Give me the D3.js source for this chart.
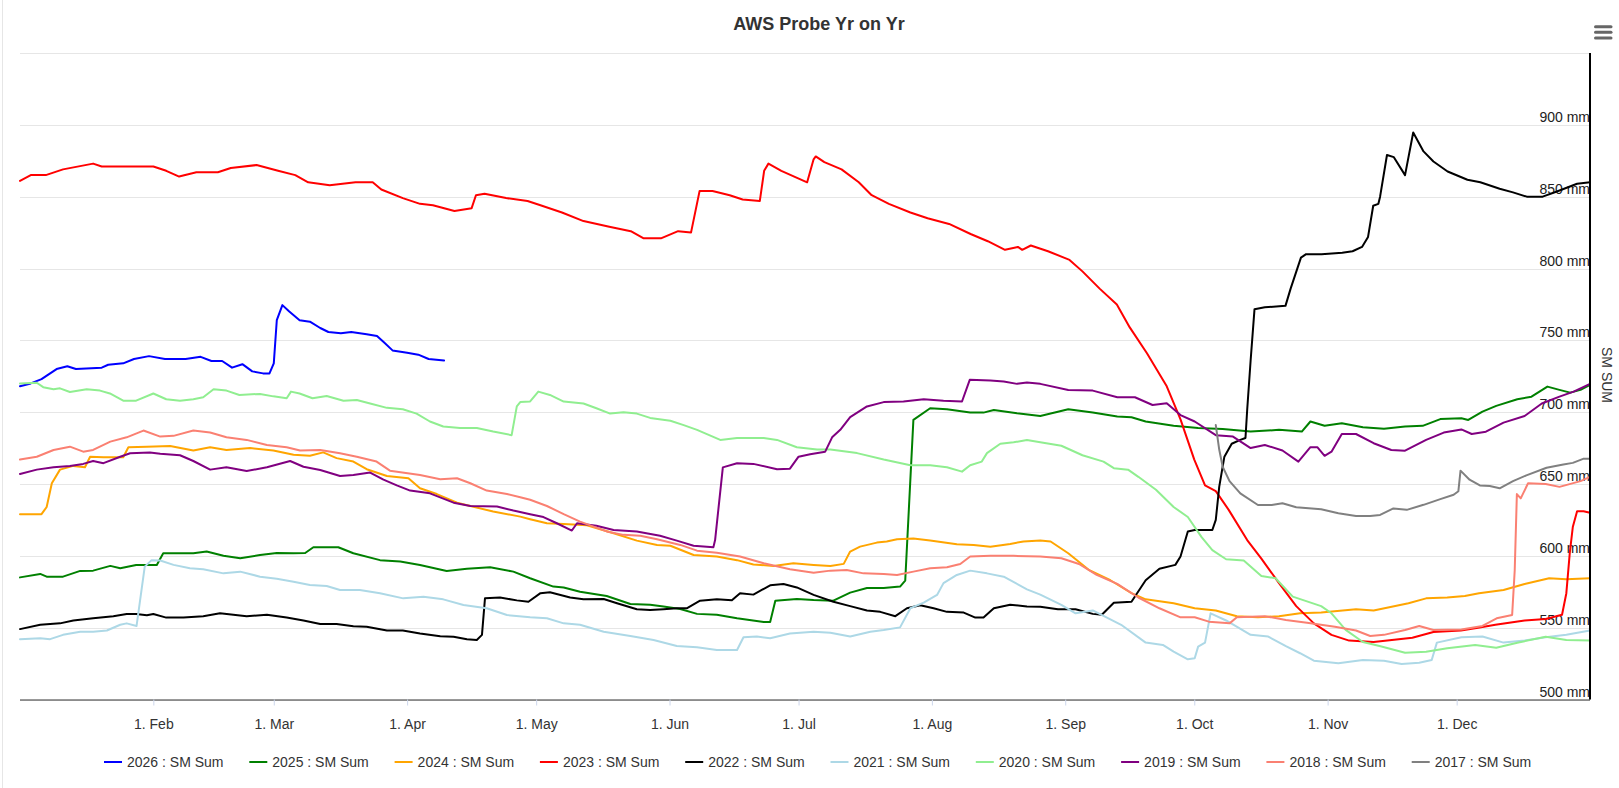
<!DOCTYPE html>
<html><head><meta charset="utf-8">
<script src="https://cdn.jsdelivr.net/npm/d3@7/dist/d3.min.js"></script>
<style>body{margin:0;background:#fff;font-family:"Liberation Sans",Arial,sans-serif}</style>
</head><body><svg id="c" width="1619" height="788"></svg>
<script>
// ---- data: [day of year, mm] ----
const yearStart = Date.UTC(2026,0,1);
const yTicks = [500,550,600,650,700,750,800,850,900,950];
const yLabelTicks = [500,550,600,650,700,750,800,850,900];
const seriesNames = ["2026 : SM Sum","2025 : SM Sum","2024 : SM Sum","2023 : SM Sum","2022 : SM Sum","2021 : SM Sum","2020 : SM Sum","2019 : SM Sum","2018 : SM Sum","2017 : SM Sum"];
const seriesColors = ["#0000FF","#008000","#FFA500","#FF0000","#000000","#ADD8E6","#90EE90","#800080","#FA8072","#808080"];

const s2026 = [[0,718],[2.5,720],[5,723],[8.5,730],[11,732],[13,730],[19,731],[20.5,733],[24,734],[26.5,737],[30,739],[33.7,737],[38.5,737],[42,738.5],[44.5,735.6],[47,735.6],[49.3,731],[51.7,733.4],[54,728.4],[56.5,727],[58,727],[59,734],[59.7,764],[61,774.5],[62.6,770],[65,764],[67.4,763],[69.8,758.6],[71.7,755.8],[74.6,755],[77,755.8],[80.6,754.3],[83,753],[84.6,748.6],[86.6,743],[90,741.4],[92.6,740],[95,737],[98.6,736]];

const s2025 = [[0,585],[4.7,587.4],[6.2,585.5],[10,585.5],[14,589.5],[17,589.7],[21,593],[23.3,591.3],[27,593.6],[31.8,593.6],[33.3,601.8],[36.4,601.8],[40.3,601.8],[43.4,603],[47.3,600],[51.2,598.3],[55.8,600.6],[59.7,602],[63.6,601.8],[66.3,602],[68.2,606],[74,606],[77.5,601.8],[83.7,597],[88.4,596],[93,593.6],[99.2,589.5],[103.9,591],[109.3,592],[114.7,589],[118.6,584.4],[124,578.6],[126.4,578],[130.2,575],[136.4,572],[141.9,566.5],[146.5,566],[149.6,564.7],[153.5,563],[157.4,559.6],[162,559],[166.7,556.5],[172.9,554],[174.4,554],[175.6,568.8],[180.6,570],[184.5,569.3],[189.1,568.8],[193,574.4],[196.9,577.6],[200.8,577.6],[204.6,578.6],[205.8,582.7],[207.7,694.6],[211.6,702.7],[215.5,702],[220.9,699.7],[224,699.7],[226.4,701.5],[231.8,699.2],[237.2,697.4],[243.7,702],[249.4,699.7],[255.1,697],[258.4,696.5],[261.7,693.5],[268.2,690.5],[273.9,688.9],[279.6,688.2],[286.1,686.5],[292.7,687.7],[298,686.5],[300,693.5],[303.3,690.5],[307.3,692.3],[312.2,689.5],[317.1,688.5],[322,690],[326.1,690.5],[330.2,695.2],[335.1,695.8],[336.7,694.6],[340,700.4],[343.2,704.4],[348.1,709],[351.4,710.8],[355.1,717.8],[357.9,715.5],[360.4,713.6],[362.8,715.5],[365,719]];

const s2024 = [[0,629],[5,629],[6.2,634],[7.4,650.5],[9.3,660],[12.4,662.6],[15.1,661.7],[16.3,669],[19.4,668.6],[24,668.6],[25.2,675.6],[29.5,676],[34.9,676.5],[40.3,673.3],[44.2,675.6],[48,673.7],[53.5,675],[58.9,673.3],[63.6,670.3],[67.4,669.6],[70.5,672],[73.6,668],[77.5,665.6],[80.6,660.3],[85.3,655.6],[90.3,654],[93,647],[96.9,643],[101.6,637],[104.7,634.7],[110,630.8],[116.3,627.3],[118.6,625.5],[122.5,622.7],[126.4,622.2],[131.8,621.3],[138,615.7],[143.4,610.6],[148.1,607.6],[151.2,607],[156.6,600.6],[162,599.5],[166.7,597],[170.5,594],[175.2,593],[179.8,594.8],[184.5,593.7],[188.4,593],[191.5,594.4],[193,603],[195.3,606.4],[199.2,609.2],[201.5,610],[203.9,611.5],[207.7,612],[211.6,610.6],[217.8,608],[221.7,607.6],[225.6,606.4],[230.2,608.3],[233.3,610],[237.2,610.6],[239.6,610],[243.7,601.8],[248.6,590],[253.5,583],[258.4,574],[261.7,569.7],[268.2,567],[273.1,563.5],[278,562],[282.9,558],[287.8,557.2],[292.7,558],[297.6,560],[302.5,560.5],[310.6,562.8],[314.7,562],[322.8,567],[326.9,570.4],[331.8,571],[335.9,572],[339.2,574],[344.9,576.2],[349.8,580.4],[355.5,584.4],[359.5,583.7],[365,584.4]];

const s2023 = [[0,861],[2.5,865],[6,865],[10,869],[17,873],[19,871],[24,871],[31,871],[34,868],[37,864],[41,867],[46,867],[49,870],[55,872],[60,868],[64,865],[67,860],[72,858],[78,860],[82,860],[84,855],[89,849],[93,845],[96,844],[101,840],[105,842],[106,851],[108,852],[113,849],[118,847],[121,844],[126,839],[131,833],[137,829],[142,826],[145,821],[149,821],[153,826],[156,825],[158,854],[161,854],[165,851],[168,848],[172,847],[173,868],[174,873],[177,868],[180,864],[183,860],[184.5,876],[185,878],[187,874],[191,869],[195,860],[198,851],[202,845],[207,839],[211,835],[216,831],[221,824],[225,819],[229,813],[232,815],[233,813],[235,816],[239,812],[244,806],[247,798],[251,786],[255,775],[258,759],[262,741],[266.6,718],[269.8,695],[273,667],[275.5,649],[278,645],[281,632],[285.3,611],[288.6,598],[292.7,581],[296.7,565],[300.8,553],[304.9,545],[309,541],[314.7,540],[323.7,543],[328.6,547],[335,548],[339,550],[343,552],[349.8,555],[354.7,556],[358.5,559],[359.5,574],[360.3,602],[361,620],[362,631],[363.5,631],[365,630]];

const s2022 = [[0,549],[4.7,552],[9.3,553],[12.4,555],[17,556.5],[21.7,558],[24.8,559.5],[27,559.5],[29.5,558.6],[31,559.5],[34,557],[38,557],[42.6,558],[46.5,560],[52.7,558],[57.4,559],[62,557],[65.9,555],[69.8,552.6],[73.6,552.6],[77.5,551],[80.6,550.7],[85.3,548],[89,548],[93,546],[97.7,544],[100.8,543.7],[103.9,542],[106.2,541.4],[107.4,545],[108.1,570.4],[111.6,571],[115.5,569],[118.2,568],[121,574],[123.2,574.6],[127.9,571],[131,569.7],[135.7,570],[138.8,567],[143.4,562.8],[146.5,562.3],[149.6,562.8],[152.7,563.5],[155,563.5],[158.1,568.8],[162,569.7],[165.5,569],[167.4,574],[170.5,573],[174.4,579.5],[177.5,580.4],[180.6,578],[184.5,572.8],[189.1,568],[193,565],[196.9,562],[200,561],[203.5,558],[206.2,563.5],[209.3,565.6],[212.4,563.5],[215.5,561],[219.4,560.5],[222.1,557],[224,557],[226.4,563.5],[230.2,566],[234.1,564.7],[237.2,564.6],[241.3,562.8],[245.4,562.8],[249.4,559.6],[251.5,559],[254.3,567.4],[258.4,568],[261.7,583],[264.9,591],[268.6,593.7],[269.8,599.5],[271.5,617],[273.1,618],[277.2,618],[278,625],[278.8,648],[280,669],[281.7,678],[283.7,680.7],[284.9,682],[285.3,701.5],[286.1,736],[287,771.6],[289.4,773],[294.2,774],[295.4,786],[297.8,807.6],[299,810],[302.6,810],[307.4,811],[309.8,812],[312,815],[313.4,822],[314.6,843.7],[315.8,845],[316.2,850],[317.8,879],[319.4,877.5],[322,865],[323.9,894.7],[326.3,881.5],[328.6,874.5],[331.9,867.5],[336.5,861.8],[339.5,860],[344,855.5],[347.1,853],[350.3,850],[354,850],[357.3,853.6],[362,859],[365,860]];

const s2021 = [[0,542],[4.7,542.6],[7,542],[10,545],[14,547.2],[17,547.2],[20.2,548],[23.3,552],[24.8,553],[27.1,551.2],[29,592.5],[30.6,597],[32.6,596.7],[35.7,593.7],[39.5,591.3],[42.6,590.6],[47.3,587.8],[51.2,589],[55.8,585.5],[59.7,584],[63.6,582],[67.4,579.7],[71.3,579],[74.4,576.2],[79,576.2],[83.7,574],[89.1,570.4],[93.8,571.6],[98.4,569.7],[103.1,565.8],[108.5,563.5],[113.2,558.8],[118.6,557.2],[122.5,556.5],[126.4,553],[130.2,552],[135.7,547.2],[141.9,544.2],[147.3,541.4],[152.7,537.2],[157.4,536.3],[162,534.5],[166.7,534.5],[168.2,543.3],[171.3,543.8],[174.4,542.6],[179,546],[184.5,547.2],[188.4,546.5],[193,543.8],[197.7,547.2],[200.8,548.4],[204.6,550.2],[207,563.5],[210.1,567.4],[213.2,572.8],[214.7,581],[217.8,586.7],[220.9,589.7],[224.8,587.8],[228.7,585.5],[234.1,576.7],[237.2,573],[242.1,565.8],[245.4,560],[249.4,562],[256,552],[261.7,539.6],[265.7,538],[268.2,533.3],[271.5,528],[273.1,528.7],[273.9,536.8],[275.5,539.6],[276.8,560],[280.4,555],[286.1,545],[290.2,543.8],[294.3,537.2],[297.6,532.2],[300.8,527],[306.5,525.2],[312.2,527.5],[317.1,527],[321.2,524.7],[325.3,525.6],[328.2,527.5],[329.4,539.6],[335.1,543.3],[340,543.8],[344.9,539.6],[349.8,541],[354.7,543.3],[359.5,545],[365,548]];

const s2020 = [[0,720],[3.9,720.5],[5.4,717.4],[7.8,716],[9.3,716.6],[11.6,714],[15.5,716],[18.6,715],[20.9,713],[24,708],[27,708],[31,713],[34,709],[37.2,708],[40.3,709],[42.6,710.4],[45,716],[48,715],[51,712],[55.8,712.7],[58.9,711],[62,709.7],[63,714.3],[65,713],[68,709.7],[71.3,711.3],[75.2,708],[78.3,708.5],[81.4,706],[85.3,703],[89,702],[92.2,699],[95.3,693.5],[98.4,690],[102.3,689],[106.2,689],[110,686.5],[114.3,684],[115.5,704],[116.3,707],[118.6,707.5],[120.5,714.3],[123.2,712],[126.4,707.4],[131,706],[134,702.7],[137.2,699],[140.3,700],[143.4,699],[146.5,696],[151.2,694],[154.3,691],[157.4,687.7],[162.8,680.7],[166.7,682],[172.9,682],[176,680.7],[180.6,675.6],[185.3,674],[188.4,674],[194.6,671.5],[200.8,667],[207,663],[211.6,663],[215.5,661.6],[219,658.6],[220.9,663],[223.6,665.6],[224.8,671.5],[227.9,678],[231,679],[234.1,680.7],[237.2,679],[242.1,676.6],[247,670],[251.9,665.6],[254.3,661],[257.6,660],[260,655],[264.1,646],[268.2,634],[271.5,627],[274.7,613],[277.2,604],[280.4,597.6],[284.5,596.7],[288.6,586],[291.9,584.4],[295.9,571.6],[302.5,565],[304.9,560],[308.2,548.5],[312.2,540],[316.3,537],[322,532.6],[326.9,533.3],[331.8,535.6],[338.3,538],[343.2,536],[348.1,539.5],[354.7,543.7],[359.5,541.4],[365,541]];

const s2019 = [[0,657],[3.9,660],[7.8,661.7],[11.6,662.6],[14.7,664],[17,666],[19.4,664.5],[23.3,669],[25.6,671.4],[30.2,672],[32.6,671],[37.2,670],[40.3,666],[44.2,660],[48,661.7],[52.7,659],[57.4,661.7],[62.8,666],[65.9,662],[69.8,659.7],[74.4,655.6],[77.5,656.3],[81.4,658],[84.5,653],[87.6,649],[90.7,645.4],[95.3,643.5],[100.8,637],[104.7,634.7],[110.9,634.3],[114.7,631.5],[118.6,629],[121.7,627],[124.8,622.7],[128.3,617.6],[129.5,622.7],[134,621],[138,618],[143.4,617],[148.8,614],[152.7,610.6],[156.6,607],[161.2,606],[161.6,611],[163.4,661.6],[166.7,664.5],[170.5,664],[176,660.3],[179,660.7],[181,669],[183.7,670.7],[187.2,672.5],[188.8,682.5],[190.7,687.7],[193,696.5],[196.9,704],[200.8,707],[205.4,707.4],[210.1,709],[214.7,708],[219,707.4],[220.8,722.5],[225.6,722],[228.7,721.4],[231.8,719.7],[234.1,720.6],[237.2,719.7],[243.7,715.5],[249.4,715],[255.1,710.4],[259.2,710.4],[263.3,705],[266.6,706.2],[269.8,698],[273.1,693.5],[278,684],[282,683],[286.1,675],[289.4,677.2],[293.5,673.3],[297.2,665.6],[300,675.6],[301.6,675.6],[303.3,669.6],[304.9,672.5],[307.3,684.8],[310.6,684.8],[314.7,678.4],[318.8,673.7],[322,673.2],[326.9,680.7],[331,685.8],[335.1,688],[337.5,684.8],[340.8,686.4],[344.9,692.7],[349.8,697.3],[353.8,706],[357.9,710.8],[361.2,714.3],[365,719.7]];

const s2018 = [[0,667],[3.9,669],[7.8,673.7],[11.6,676],[14.7,672.5],[17,673.7],[21,679.5],[24.8,682.5],[28.7,687.2],[32.6,683],[35.7,683.5],[40.3,687.2],[44.2,685.8],[48,682.5],[52.7,680.7],[57.4,677.2],[62,675.6],[65.1,673.3],[69.8,673.7],[74.4,671.4],[78.3,669],[82.9,665.6],[86,659.3],[93,656.3],[97.7,653.3],[101.6,654],[104.7,650.5],[108.5,645.4],[113.2,643],[116.3,640.8],[118.6,639],[122.5,634.7],[126.4,629],[130.2,623.8],[136.4,617],[140.3,614.6],[144.2,614],[148.1,611.5],[153.5,607.6],[157.4,603.6],[162,602.2],[167.4,599.5],[172.9,594.8],[179,590.6],[184.5,588.3],[188.4,589.7],[192.2,590.2],[196.1,587.8],[200.8,587.4],[203.9,586.7],[207.7,589],[211.6,591.3],[215.5,592],[218.6,594.3],[220.9,599.5],[225.6,600],[231,600],[237.2,599.5],[242.1,598.3],[246.2,594.3],[250.3,586.7],[255.1,580.5],[260,571],[264.9,563.5],[269.8,557.2],[273.1,557.2],[276.4,554.2],[281.2,553],[282.9,557.2],[289.4,558],[294.3,555.4],[299.2,553.5],[305.7,550.7],[310.6,548],[313.9,544.2],[317.1,545],[322,548.4],[325.3,551.2],[328.6,548.4],[335.1,548.8],[340,551.2],[343.3,556.5],[346.9,558.8],[347.5,590],[348,643],[348.9,640],[350.6,650.5],[354.7,650],[357.9,648],[362.8,652],[365,655]];

const s2017 = [[278,691],[278.8,674],[279.6,662],[281.2,652],[283.7,643.5],[287.8,635.4],[291,635.4],[293.5,636.6],[296.7,633.8],[302.5,632.4],[306.5,629.7],[310.6,627.8],[313.9,627.8],[316.2,628.5],[319.3,633],[322.4,632],[326.3,635.5],[330.2,639.5],[333.3,642.5],[334.4,645],[334.9,659.3],[337,653],[339.4,649],[341.7,648.6],[344,647],[347.1,652],[350.2,656],[354.9,661.3],[358.8,663.6],[361,664.7],[363.4,667.5],[365,667.5]];

const seriesData = [s2026,s2025,s2024,s2023,s2022,s2021,s2020,s2019,s2018,s2017];

// ---- layout ----
const W=1619,H=788;
const plot={left:20,right:1590,top:53,bottom:699.5};
const svg=d3.select("#c");
svg.append("rect").attr("width",W).attr("height",H).attr("fill","#fff");
svg.append("line").attr("x1",2.5).attr("x2",2.5).attr("y1",0).attr("y2",H).attr("stroke","#e6e6e6");

const toDate=d=>new Date(yearStart+d*86400000);
const x=d3.scaleUtc().domain([toDate(0),toDate(365)]).range([plot.left,plot.right]);
const y=d3.scaleLinear().domain([500,950]).range([plot.bottom,plot.top]);

// gridlines
svg.append("g").selectAll("line").data(yTicks).join("line")
  .attr("x1",plot.left).attr("x2",plot.right)
  .attr("y1",d=>Math.round(y(d))+0.5).attr("y2",d=>Math.round(y(d))+0.5)
  .attr("stroke","#e6e6e6").attr("stroke-width",1);

// x axis
const months=d3.utcMonth.range(toDate(1),toDate(365));
const xAxis=d3.axisBottom(x).tickValues(months).tickFormat(d3.utcFormat("1. %b")).tickSize(6).tickPadding(14);
const gx=svg.append("g").attr("transform",`translate(0,${plot.bottom})`).call(xAxis);
gx.select(".domain").attr("stroke","#333").attr("d",`M${plot.left},0.5H${plot.right}`);
gx.selectAll(".tick line").attr("stroke","#ccd6eb");
gx.selectAll(".tick text").attr("font-size","14px").attr("fill","#333")
  .attr("font-family","'Liberation Sans',Arial,sans-serif");

// y axis labels (right side)
const yAxis=d3.axisRight(y).tickValues(yLabelTicks).tickFormat(d=>d+" mm").tickSize(0);
const gy=svg.append("g").attr("transform",`translate(${plot.right},0)`).call(yAxis);
gy.select(".domain").remove();
gy.selectAll(".tick text").attr("text-anchor","end").attr("x",0).attr("dy","-3.5")
  .attr("font-size","14px").attr("fill","#222").attr("font-family","'Liberation Sans',Arial,sans-serif");

// lines
const line=d3.line().x(p=>x(toDate(p[0]))).y(p=>y(p[1]));
svg.append("g").selectAll("path").data(seriesData).join("path")
  .attr("d",line).attr("fill","none")
  .attr("stroke",(d,i)=>seriesColors[i]).attr("stroke-width",2)
  .attr("stroke-linejoin","round").attr("stroke-linecap","round");

// right axis line
svg.append("line").attr("x1",plot.right).attr("x2",plot.right).attr("y1",plot.top).attr("y2",plot.bottom)
  .attr("stroke","#000").attr("stroke-width",2);

// axis title
svg.append("text").attr("transform",`translate(1602,375) rotate(90)`).attr("text-anchor","middle")
  .attr("font-size","14px").attr("fill","#333").text("SM SUM");

// title
svg.append("text").attr("x",819).attr("y",30).attr("text-anchor","middle")
  .attr("font-size","18px").attr("font-weight","bold").attr("fill","#333").text("AWS Probe Yr on Yr");

// menu icon
svg.append("g").selectAll("line").data([26.7,32.3,38]).join("line")
  .attr("x1",1595.5).attr("x2",1611).attr("y1",d=>d).attr("y2",d=>d)
  .attr("stroke","#666").attr("stroke-width",3).attr("stroke-linecap","round");

// legend
const lg=svg.append("g");
seriesNames.forEach((n,i)=>{
  const x0=104+i*145.3;
  lg.append("line").attr("x1",x0).attr("x2",x0+18).attr("y1",762).attr("y2",762)
    .attr("stroke",seriesColors[i]).attr("stroke-width",2);
  lg.append("text").attr("x",x0+23).attr("y",767).attr("font-size","14px").attr("fill","#333").text(n);
});
</script></body></html>
